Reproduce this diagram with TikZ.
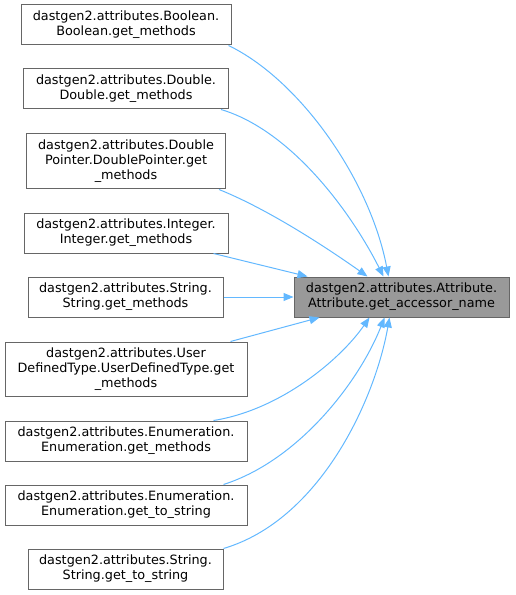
\documentclass[tikz,border=0pt]{standalone}
\usepackage{fontspec}
\setmainfont{DejaVu Sans}
\usetikzlibrary{arrows.meta}
\definecolor{edgeblue}{HTML}{63B8FF}
\definecolor{boxline}{HTML}{666666}
\definecolor{tfill}{HTML}{999999}
\begin{document}
\begin{tikzpicture}[x=0.75pt,y=-0.75pt,
  box/.style={draw=boxline,line width=0.75pt,fill=white,rectangle,inner sep=0pt,align=center,
    font=\fontsize{9.6pt}{11.25pt}\selectfont},
  edge/.style={draw=edgeblue,line width=0.75pt,-{Triangle[length=7.5pt,width=6pt]}}]
\useasboundingbox (0,0) rectangle (515,595);
\node[box,minimum width=210*0.75pt,minimum height=40*0.75pt] (b1) at (126,25) {dastgen2.attributes.Boolean.\\Boolean.get\_methods};
\node[box,minimum width=205*0.75pt,minimum height=40*0.75pt] (b2) at (126,89) {dastgen2.attributes.Double.\\Double.get\_methods};
\node[box,minimum width=199*0.75pt,minimum height=55*0.75pt] (b3) at (126,161.5) {dastgen2.attributes.Double\\Pointer.DoublePointer.get\\\_methods};
\node[box,minimum width=204*0.75pt,minimum height=40*0.75pt] (b4) at (126,233) {dastgen2.attributes.Integer.\\Integer.get\_methods};
\node[box,minimum width=195*0.75pt,minimum height=40*0.75pt] (b5) at (125.5,297) {dastgen2.attributes.String.\\String.get\_methods};
\node[box,minimum width=242*0.75pt,minimum height=54*0.75pt] (b6) at (126,369) {dastgen2.attributes.User\\DefinedType.UserDefinedType.get\\\_methods};
\node[box,minimum width=242*0.75pt,minimum height=40*0.75pt] (b7) at (126,441) {dastgen2.attributes.Enumeration.\\Enumeration.get\_methods};
\node[box,minimum width=242*0.75pt,minimum height=40*0.75pt] (b8) at (126,505) {dastgen2.attributes.Enumeration.\\Enumeration.get\_to\_string};
\node[box,minimum width=195*0.75pt,minimum height=40*0.75pt] (b9) at (125.5,569) {dastgen2.attributes.String.\\String.get\_to\_string};
\node[box,fill=tfill,minimum width=215*0.75pt,minimum height=40*0.75pt] (t) at (401.5,297) {dastgen2.attributes.Attribute.\\Attribute.get\_accessor\_name};

\draw[edge] ([xshift=-3*0.75pt]b1.south east) .. controls (300,80) and (370,180) .. ([xshift=-13*0.75pt]t.north);
\draw[edge] ([xshift=-8*0.75pt]b2.south east) .. controls (290,130) and (350,210) .. ([xshift=-18*0.75pt]t.north);
\draw[edge] ([xshift=-7*0.75pt]b3.south east) .. controls (270,210) and (330,250) .. ([xshift=-34*0.75pt]t.north);
\draw[edge] ([xshift=-15*0.75pt]b4.south east) -- ([xshift=-94*0.75pt]t.north);
\draw[edge] (b5.east) -- (t.west);
\draw[edge] ([xshift=-17*0.75pt]b6.north east) -- ([xshift=-82*0.75pt]t.south);
\draw[edge] ([xshift=-34*0.75pt]b7.north east) .. controls (280,410) and (340,360) .. ([xshift=-32*0.75pt]t.south);
\draw[edge] ([xshift=-24*0.75pt]b8.north east) .. controls (300,460) and (360,380) .. ([xshift=-17*0.75pt]t.south);
\draw[edge] (b9.north east) .. controls (320,520) and (375,400) .. ([xshift=-12*0.75pt]t.south);
\end{tikzpicture}
\end{document}
